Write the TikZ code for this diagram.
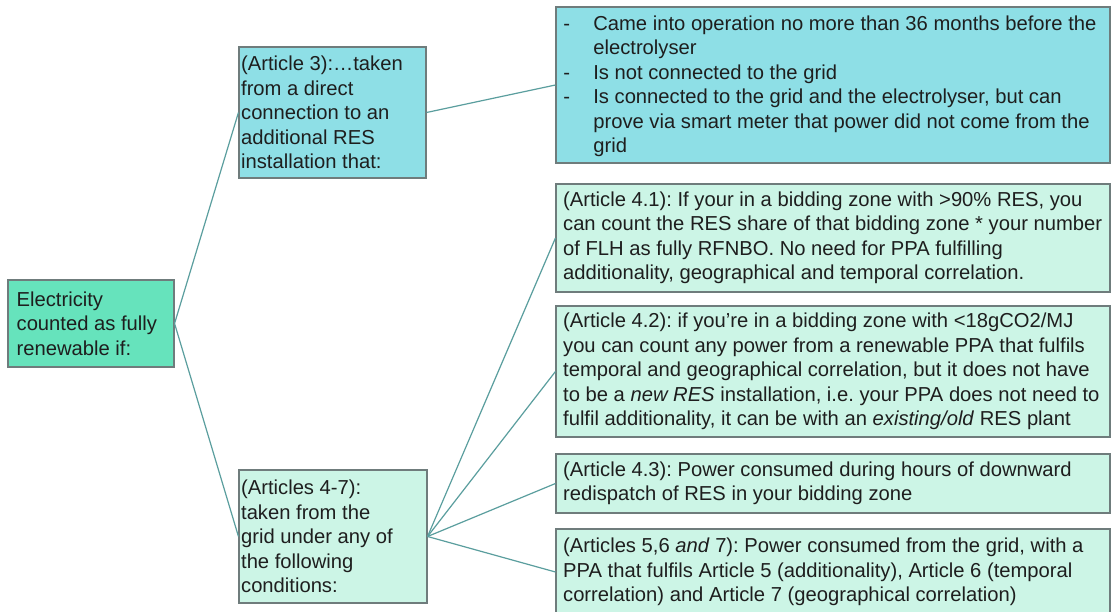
\documentclass[tikz,border=0pt]{standalone}
\usepackage{fontspec}
\setmainfont{Liberation Sans}
\definecolor{mintdark}{HTML}{66E3BC}
\definecolor{cyanbox}{HTML}{8EDFE6}
\definecolor{mintlight}{HTML}{CCF5E6}
\definecolor{bordergray}{HTML}{6F7C7C}
\definecolor{linkteal}{HTML}{5A9E9E}
\definecolor{txtcol}{HTML}{1E1E1E}
\begin{document}
\frenchspacing
\begin{tikzpicture}[x=1pt,y=-1pt,
  box/.style={draw=bordergray, line width=1.1pt, inner sep=0pt, rectangle},
  txt/.style={inner sep=0pt, anchor=west, align=left, text=txtcol, font=\fontsize{20.2}{24.5}\selectfont\frenchspacing},
  link/.style={draw=linkteal, line width=1.2pt}]
\clip (0,0) rectangle (1111,612);
\fill[white] (0,0) rectangle (1111,612);
% boxes
\node[box, fill=mintdark, minimum width=166pt, minimum height=87pt] (L) at (91,323.5) {};
\node[box, fill=cyanbox, minimum width=187pt, minimum height=131pt] (A3) at (332.5,112.5) {};
\node[box, fill=mintlight, minimum width=188pt, minimum height=133pt] (A47) at (333,536.5) {};
\node[box, fill=cyanbox, minimum width=554pt, minimum height=156pt] (T) at (833,85) {};
\node[box, fill=mintlight, minimum width=554pt, minimum height=108pt] (R1) at (833,238) {};
\node[box, fill=mintlight, minimum width=554pt, minimum height=131pt] (R2) at (833,371.5) {};
\node[box, fill=mintlight, minimum width=554pt, minimum height=59pt] (R3) at (833,483.5) {};
\node[box, fill=mintlight, minimum width=554pt, minimum height=86pt] (R4) at (833,572) {};
% texts
\node[txt] (Lt) at ([xshift=9pt]L.west) {Electricity\\counted as fully\\renewable if:};
\node[txt] (A3t) at ([xshift=2.5pt]A3.west) {(Article 3):…taken\\from a direct\\connection to an\\additional RES\\installation that:};
\node[txt] (A47t) at ([xshift=2.5pt]A47.west) {(Articles 4-7):\\taken from the\\grid under any of\\the following\\conditions:};
\node[txt] (Tt) at ([xshift=7.7pt,yshift=-1.5pt]T.west) {\makebox[30pt][l]{-}Came into operation no more than 36 months before the\\\hspace*{30pt}electrolyser\\\makebox[30pt][l]{-}Is not connected to the grid\\\makebox[30pt][l]{-}Is connected to the grid and the electrolyser, but can\\\hspace*{30pt}prove via smart meter that power did not come from the\\\hspace*{30pt}grid};
\node[txt] (R1t) at ([xshift=7.5pt]R1.west) {(Article 4.1): If your in a bidding zone with >90\% RES, you\\can count the RES share of that bidding zone * your number\\of FLH as fully RFNBO. No need for PPA fulfilling\\additionality, geographical and temporal correlation.};
\node[txt] (R2t) at ([xshift=7.5pt]R2.west) {(Article 4.2): if you’re in a bidding zone with <18gCO2/MJ\\you can count any power from a renewable PPA that fulfils\\temporal and geographical correlation, but it does not have\\to be a \textit{new RES} installation, i.e. your PPA does not need to\\fulfil additionality, it can be with an \textit{existing/old} RES plant};
\node[txt] (R3t) at ([xshift=7.5pt]R3.west) {(Article 4.3): Power consumed during hours of downward\\redispatch of RES in your bidding zone};
\node[txt] (R4t) at ([xshift=7.5pt]R4.west) {(Articles 5,6 \textit{and} 7): Power consumed from the grid, with a\\PPA that fulfils Article 5 (additionality), Article 6 (temporal\\correlation) and Article 7 (geographical correlation)};
% connectors
\draw[link] (L.east) -- (A3.west);
\draw[link] (L.east) -- (A47.west);
\draw[link] (A3.east) -- (T.west);
\draw[link] (A47.east) -- (R1.west);
\draw[link] (A47.east) -- (R2.west);
\draw[link] (A47.east) -- (R3.west);
\draw[link] (A47.east) -- (R4.west);
\end{tikzpicture}
\end{document}
